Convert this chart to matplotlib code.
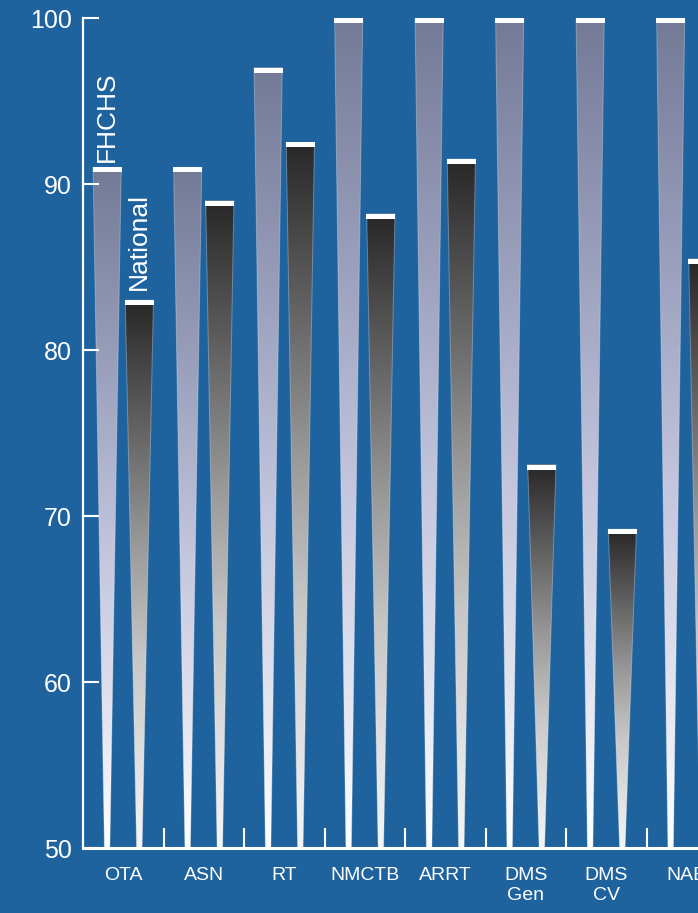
import numpy as np
import matplotlib
matplotlib.use('Agg')
import matplotlib.pyplot as plt
from matplotlib.patches import Polygon, Rectangle
from matplotlib.colors import LinearSegmentedColormap

# pass rates, school vs national
categories = ["OTA", "ASN", "RT", "NMCTB", "ARRT", "DMS\nGen", "DMS\nCV", "NAB"]
fhchs = [91, 91, 97, 100, 100, 100, 100, 100]
national = [83, 89, 92.5, 88.2, 91.5, 73.1, 69.2, 85.5]

bg = '#1f639e'
plt.rcParams['font.family'] = ['Liberation Sans', 'DejaVu Sans']

# gradients, top of bar -> bottom of bar
fhchs_cmap = LinearSegmentedColormap.from_list('fhchs', [(0, '#737a96'), (0.3, '#9ba0bd'), (0.58, '#c5c8de'), (0.82, '#e4e5f0'), (1, '#ffffff')])
nat_cmap = LinearSegmentedColormap.from_list('nat', [(0, '#292727'), (0.45, '#9a9a9a'), (0.65, '#c6c6c6'), (1, '#f5f5f5')])

fig = plt.figure(figsize=(6.98, 9.13), dpi=100, facecolor=bg)
ax = fig.add_axes([83 / 698, 65 / 913, 644 / 698, 830 / 913], facecolor=bg)

top_w = 0.35
bot_w = 0.068
cap_w = 0.36
cap_h = 0.3
grad = np.linspace(0, 1, 256).reshape(-1, 1)


def draw_bar(xc, val, cmap):
    poly = Polygon([(xc - top_w / 2, val), (xc + top_w / 2, val), (xc + bot_w / 2, 50), (xc - bot_w / 2, 50)],
                   closed=True, facecolor='none', edgecolor=(1, 1, 1, 0.3), lw=0.7, zorder=2)
    ax.add_patch(poly)
    im = ax.imshow(grad, cmap=cmap, extent=[xc - top_w / 2, xc + top_w / 2, 50, val],
                   aspect='auto', origin='upper', zorder=1)
    im.set_clip_path(poly)
    ax.add_patch(Rectangle((xc - cap_w / 2, val - cap_h), cap_w, cap_h, facecolor='white', edgecolor='none', zorder=3))


for i in range(len(categories)):
    draw_bar(i + 0.30, fhchs[i], fhchs_cmap)
    draw_bar(i + 0.70, national[i], nat_cmap)

# series labels on the first group
ax.text(0.30, fhchs[0] + 0.3, "FHCHS", rotation=90, ha='center', va='bottom', color='white', fontsize=19)
ax.text(0.70, national[0] + 0.6, "National", rotation=90, ha='center', va='bottom', color='white', fontsize=19)

ax.set_xlim(0, len(categories))
ax.set_ylim(50, 100)

for s in ['top', 'right']:
    ax.spines[s].set_visible(False)
ax.spines['left'].set_color('white')
ax.spines['left'].set_linewidth(1.6)
ax.spines['bottom'].set_color('white')
ax.spines['bottom'].set_linewidth(2.2)

ax.set_yticks([50, 60, 70, 80, 90, 100])
ax.tick_params(axis='y', direction='in', length=11.5, width=1.5, colors='white', labelsize=18, pad=8)

ax.set_xticks(np.arange(len(categories)) + 0.5)
ax.set_xticklabels(categories)
ax.tick_params(axis='x', which='major', length=0, colors='white', labelsize=14, pad=14)
ax.set_xticks(np.arange(1, len(categories)), minor=True)
ax.tick_params(axis='x', which='minor', direction='in', length=14.5, width=1.5, color='white')

fig.savefig('out.png', dpi=100, facecolor=bg)
